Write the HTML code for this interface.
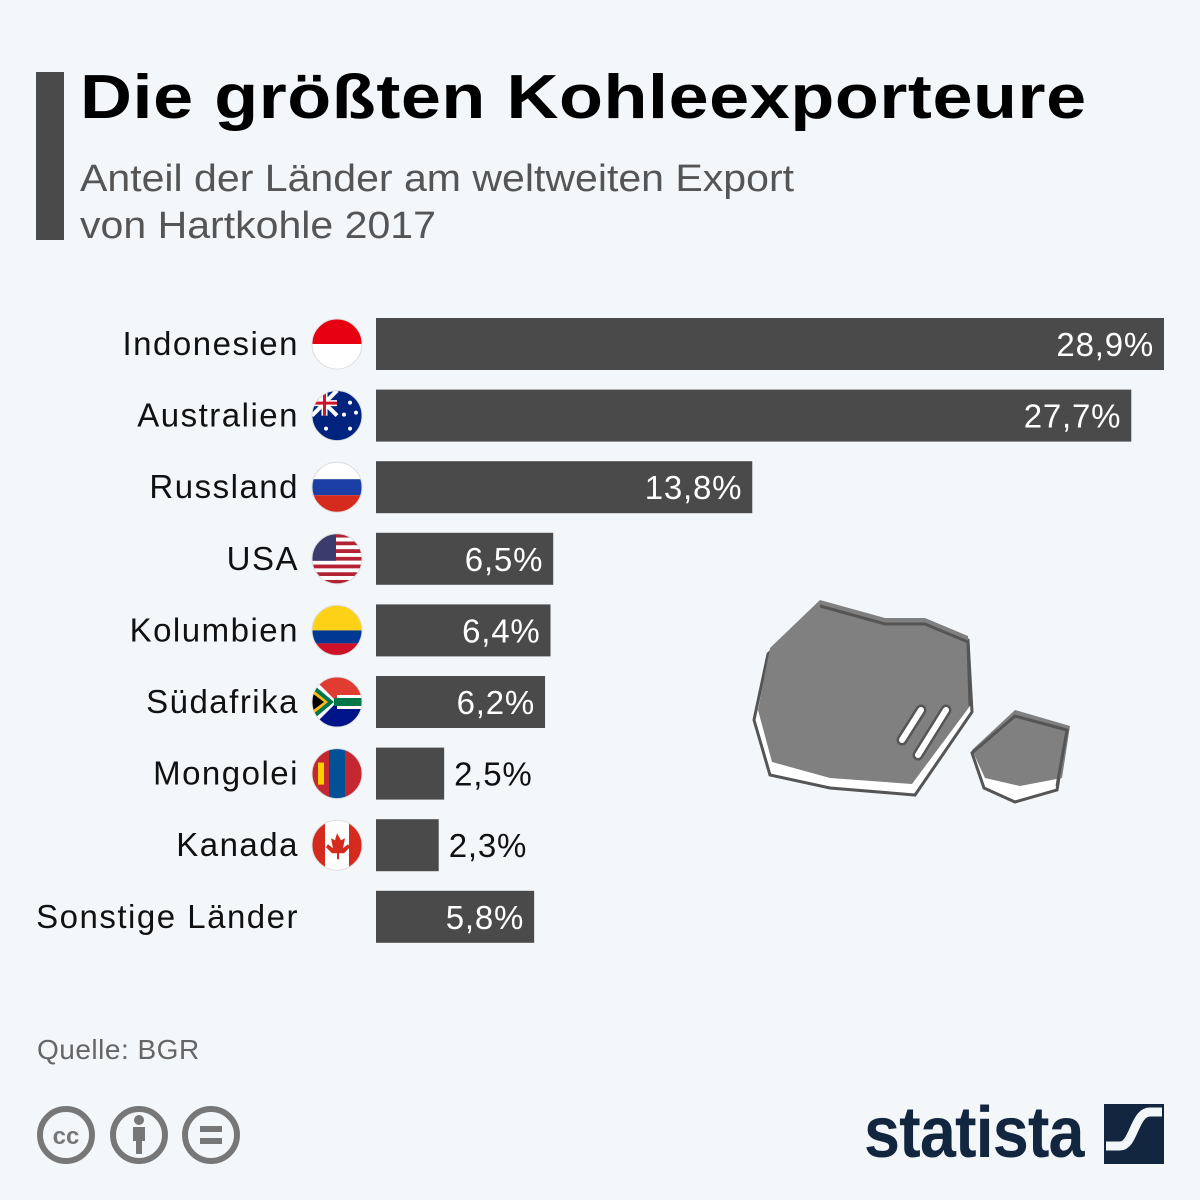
<!DOCTYPE html>
<html><head><meta charset="utf-8">
<style>
body{margin:0;width:1200px;height:1200px;background:#f4f7fa;font-family:"Liberation Sans","DejaVu Sans",sans-serif;position:relative;overflow:hidden}
.t{position:absolute;white-space:nowrap}
</style></head>
<body>
<div style="position:absolute;left:36px;top:72px;width:28px;height:168px;background:#4a4a4a"></div>
<div class="t" style="left:80px;top:62px;font-size:62px;font-weight:bold;color:#000;letter-spacing:0.5px;transform:scaleX(1.16);transform-origin:left">Die größten Kohleexporteure</div>
<div class="t" style="left:80px;top:156px;font-size:38px;color:#555;line-height:47px;transform:scaleX(1.08);transform-origin:left">Anteil der Länder am weltweiten Export<br>von Hartkohle 2017</div>

<svg id="chart" width="1200" height="1000" style="position:absolute;left:0;top:0"></svg>

<div class="t" style="left:37px;top:1034px;font-size:28px;color:#666;letter-spacing:0.5px">Quelle: BGR</div>

<svg width="220" height="70" style="position:absolute;left:30px;top:1100px">
<g fill="none" stroke="#777" stroke-width="6">
<circle cx="36" cy="35" r="26"/><circle cx="109" cy="35" r="26"/><circle cx="181" cy="35" r="26"/></g>
<text x="36" y="44" font-size="24" font-weight="bold" fill="#777" text-anchor="middle" font-family="Liberation Sans">cc</text>
<circle cx="109" cy="20" r="5" fill="#777"/><rect x="103" y="27" width="12" height="14" fill="#777"/><rect x="106" y="40" width="6" height="14" fill="#777"/>
<rect x="170" y="26" width="22" height="6" fill="#777"/><rect x="170" y="38" width="22" height="6" fill="#777"/>
</svg>

<div class="t" style="left:864px;top:1092px;font-size:72px;font-weight:bold;color:#13263f;letter-spacing:-1px;transform:scaleX(0.9);transform-origin:left">statista</div>
<svg width="60" height="60" style="position:absolute;left:1104px;top:1104px">
<rect width="60" height="60" fill="#13263f"/>
<path d="M0 44 L14 44 C24 44 26 6 42 6 L60 6 L60 10 L48 10 C32 10 34 56 18 56 L0 56 Z" fill="#f4f7fa" opacity="0"/>
<path d="M2 42 L16 42 C30 42 30 8 46 8 L58 8" fill="none" stroke="#f4f7fa" stroke-width="9"/>
</svg>

<svg width="340" height="220" style="position:absolute;left:740px;top:590px">
<polygon points="80,14 145,32 185,32 228,50 232,122 175,205 90,198 30,185 14,130 28,64" fill="#fff" stroke="#555" stroke-width="3"/>
<polygon points="80,10 145,28 185,28 228,46 230,116 172,194 90,188 32,172 18,120 30,58" fill="#808080"/>
<polyline points="80,16 145,34 185,34 228,52 230,116" fill="none" stroke="#555" stroke-width="3"/>
<polygon points="275,124 327,138 317,200 275,212 244,198 232,163" fill="#fff" stroke="#555" stroke-width="3"/>
<polygon points="275,120 330,136 322,188 280,196 245,188 232,160" fill="#808080"/>
<polyline points="232,163 275,126 327,140 317,196" fill="none" stroke="#555" stroke-width="3"/>
<g stroke="#555" stroke-width="11" stroke-linecap="round"><line x1="181" y1="120" x2="162" y2="150"/><line x1="206" y1="120" x2="178" y2="165"/></g>
<g stroke="#fff" stroke-width="6" stroke-linecap="round"><line x1="181" y1="120" x2="162" y2="150"/><line x1="206" y1="120" x2="178" y2="165"/></g>
</svg>

<script>
const categories=["Indonesien","Australien","Russland","USA","Kolumbien","Südafrika","Mongolei","Kanada","Sonstige Länder"];
const values=[28.9,27.7,13.8,6.5,6.4,6.2,2.5,2.3,5.8];
const valueLabels=["28,9%","27,7%","13,8%","6,5%","6,4%","6,2%","2,5%","2,3%","5,8%"];
const flags=["id","au","ru","us","co","za","mn","ca",""];
const NS="http://www.w3.org/2000/svg";
const svg=document.getElementById("chart");
const x0=376, xScale=v=>v*(788/28.9);
const yTop=i=>318+i*71.6, barH=52;
function mk(t,a,p){const e=document.createElementNS(NS,t);for(const k in a)e.setAttribute(k,a[k]);(p||svg).appendChild(e);return e;}
function flag(code,cx,cy,i){
  const g=mk("g",{});
  
  
  const id="cl"+i;
  const cp=mk("clipPath",{id:id},g);mk("circle",{cx:cx,cy:cy,r:25},cp);
  const c=mk("g",{"clip-path":"url(#"+id+")"},g);
  const L=cx-25,T=cy-25;
  const R=(x,y,w,h,f)=>mk("rect",{x:L+x,y:T+y,width:w,height:h,fill:f},c);
  if(code==="id"){R(0,0,50,25,"#e70011");R(0,25,50,25,"#fff");}
  if(code==="ru"){R(0,0,50,17,"#fff");R(0,17,50,16,"#1c3fa5");R(0,33,50,17,"#d52b1e");}
  if(code==="co"){R(0,0,50,25,"#fcd116");R(0,25,50,13,"#003893");R(0,38,50,12,"#ce1126");}
  if(code==="mn"){R(0,0,17,50,"#c4272f");R(17,0,16,50,"#015197");R(33,0,17,50,"#c4272f");R(6,14,6,22,"#f9cf02");}
  if(code==="ca"){R(0,0,13,50,"#d52b1e");R(13,0,24,50,"#fff");R(37,0,13,50,"#d52b1e");mk("path",{d:`M${cx} ${cy-12} l4 7 4-2-2 10 5-4 2 3-6 6h-5v6h-2v-6h-5l-6-6 2-3 5 4-2-10 4 2z`,fill:"#d52b1e"},c);}
  if(code==="us"){for(let k=0;k<13;k++)R(0,k*50/13,50,50/13,k%2?"#fff":"#b22234");R(0,0,24,27,"#3c3b6e");}
  if(code==="au"){R(0,0,50,50,"#00247d");mk("path",{d:`M${L} ${T} l25 25 M${L+25} ${T} l-25 25`,stroke:"#fff","stroke-width":4},c);mk("path",{d:`M${L+12.5} ${T} v25 M${L} ${T+12.5} h25`,stroke:"#fff","stroke-width":6},c);mk("path",{d:`M${L+12.5} ${T} v25 M${L} ${T+12.5} h25`,stroke:"#cf142b","stroke-width":3},c);[[38,12],[44,22],[32,24],[38,38],[14,38]].forEach(p=>mk("circle",{cx:L+p[0],cy:T+p[1],r:2,fill:"#fff"},c));}
  if(code==="za"){R(0,0,50,25,"#e03c31");R(0,25,50,25,"#001489");mk("path",{d:`M${L} ${T} L${L+25} ${cy} L${L} ${T+50}Z M${L+25} ${cy-7}h25v14h-25z`,fill:"#fff"},c);mk("path",{d:`M${L-3} ${T+4} L${L+22} ${cy} L${L-3} ${T+46}Z M${L+22} ${cy-4}h28v8h-28z`,fill:"#007749"},c);mk("path",{d:`M${L} ${T+12} L${L+16} ${cy} L${L} ${T+38}Z`,fill:"#ffb81c"},c);mk("path",{d:`M${L} ${T+16} L${L+12} ${cy} L${L} ${T+34}Z`,fill:"#000"},c);}
  mk("circle",{cx:cx,cy:cy,r:25,fill:"none",stroke:"#ddd","stroke-width":1},g);
}
categories.forEach((cat,i)=>{
  const y=yTop(i), w=xScale(values[i]);
  const r=mk("rect",{x:x0,y:y,width:w,height:barH,fill:"#4a4a4a"});
  
  
  const lab=mk("text",{x:299,y:y+37,"text-anchor":"end","font-size":33,fill:"#111","letter-spacing":"1.5"});
  lab.textContent=cat;
  
  
  if(flags[i])flag(flags[i],337,y+26,i);
  const inside=w>120;
  const vt=mk("text",{x:inside?x0+w-10:x0+w+10,y:y+38,"text-anchor":inside?"end":"start","font-size":33,fill:inside?"#fff":"#111","letter-spacing":"0.8"});
  vt.textContent=valueLabels[i];
  
  
});
</script>
</body></html>
